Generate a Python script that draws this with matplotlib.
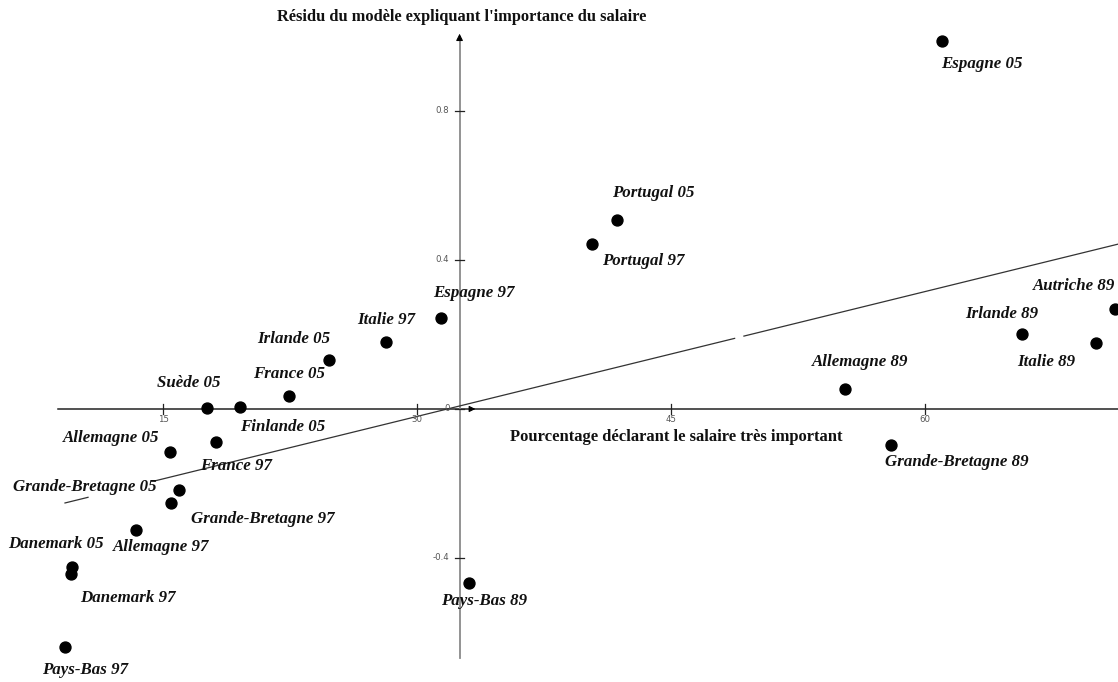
import matplotlib
matplotlib.use("Agg")
import matplotlib.pyplot as plt

# pays / annee, pourcentage (x) et residu du modele (y)
pays = ["Espagne 05", "Portugal 05", "Portugal 97", "Espagne 97", "Italie 97",
        "Irlande 05", "France 05", "Suède 05", "Finlande 05", "Allemagne 05",
        "France 97", "Grande-Bretagne 05", "Grande-Bretagne 97", "Allemagne 97",
        "Danemark 05", "Danemark 97", "Pays-Bas 97", "Pays-Bas 89",
        "Allemagne 89", "Grande-Bretagne 89", "Irlande 89", "Italie 89",
        "Autriche 89"]
pourcentage = [61.0, 41.8, 40.3, 31.4, 28.15, 24.8, 22.4, 17.6, 19.5, 15.4,
               18.1, 15.9, 15.45, 13.4, 9.6, 9.55, 9.2, 33.05,
               55.3, 58.0, 65.7, 70.1, 71.2]
residu = [0.988, 0.507, 0.443, 0.244, 0.180, 0.132, 0.035, 0.003, 0.005, -0.115,
          -0.089, -0.217, -0.252, -0.325, -0.424, -0.443, -0.639, -0.467,
          0.054, -0.097, 0.201, 0.177, 0.268]

x_ticks = [15, 30, 45, 60]
y_ticks = [0.8, 0.4, 0, -0.4]

# droite d'ajustement
pente = 0.01117
ordonnee = -0.355

# decalage des etiquettes (pixels)
decal = {
    "Espagne 05": (40, -23), "Portugal 05": (36, 27), "Portugal 97": (52, -17),
    "Espagne 97": (33, 25), "Italie 97": (0, 22), "Irlande 05": (-35, 21),
    "France 05": (0, 22), "Suède 05": (-19, 25), "Finlande 05": (43, -20),
    "Allemagne 05": (-59, 14), "France 97": (20, -24),
    "Grande-Bretagne 05": (-94, 3), "Grande-Bretagne 97": (92, -16),
    "Allemagne 97": (25, -17), "Danemark 05": (-16, 23), "Danemark 97": (57, -24),
    "Pays-Bas 97": (20, -23), "Pays-Bas 89": (15, -18), "Allemagne 89": (15, 27),
    "Grande-Bretagne 89": (66, -17), "Irlande 89": (-20, 20),
    "Italie 89": (-50, -19), "Autriche 89": (-41, 23),
}

fig = plt.figure(figsize=(11.18, 6.82), dpi=100)
ax = fig.add_axes([0, 0, 1, 1])
ax.set_xlim(5.35, 71.4)
ax.set_ylim(-0.733, 1.098)
ax.axis("off")

x0 = 32.5  # position de l'axe vertical

# axes
ax.plot([8.78, 71.4], [0, 0], color="#222222", lw=1.1, zorder=1)
ax.plot([x0, x0], [-0.668, 1.0], color="#8a8a8a", lw=1.3, zorder=1)
ax.annotate("", xy=(x0, 1.015), xytext=(x0, 0.99),
            arrowprops=dict(arrowstyle="-|>", color="black", lw=0.8,
                            mutation_scale=10))
ax.annotate("", xy=(33.6, 0), xytext=(33.0, 0),
            arrowprops=dict(arrowstyle="-|>", color="black", lw=0.8,
                            mutation_scale=9))

for t in x_ticks:
    ax.plot([t, t], [-0.013, 0.013], color="#222222", lw=0.9)
    ax.text(t, -0.028, str(t), ha="center", va="center", fontsize=6.2,
            color="#555555", family="DejaVu Sans")
for t in y_ticks:
    ax.plot([x0 - 0.25, x0 + 0.25], [t, t], color="#222222", lw=0.9)
    ax.text(x0 - 0.6, t, "0" if t == 0 else str(t), ha="right", va="center",
            fontsize=6.2, color="#555555", family="DejaVu Sans")

# droite de regression (interrompue sous certaines etiquettes)
for xa, xb in [(9.19, 10.55), (14.5, 48.75), (49.3, 71.4)]:
    ax.plot([xa, xb], [pente * xa + ordonnee, pente * xb + ordonnee],
            color="#333333", lw=0.9, zorder=1)

ax.scatter(pourcentage, residu, s=62, color="black", zorder=3)

for nom, px, py in zip(pays, pourcentage, residu):
    dx, dy = decal[nom]
    ax.annotate(nom, (px, py), xytext=(dx, dy), textcoords="offset pixels",
                ha="center", va="center", fontsize=12.2, fontweight="bold",
                fontstyle="italic", family="Liberation Serif", color="#111111")

ax.text(x0 + 0.1, 1.053, "Résidu du modèle expliquant l'importance du salaire",
        ha="center", va="center", fontsize=11.8, fontweight="bold",
        family="Liberation Serif", color="#111111")
ax.text(45.3, -0.074, "Pourcentage déclarant le salaire très important",
        ha="center", va="center", fontsize=12.0, fontweight="bold",
        family="Liberation Serif", color="#111111")

fig.savefig("out.png", dpi=100)
